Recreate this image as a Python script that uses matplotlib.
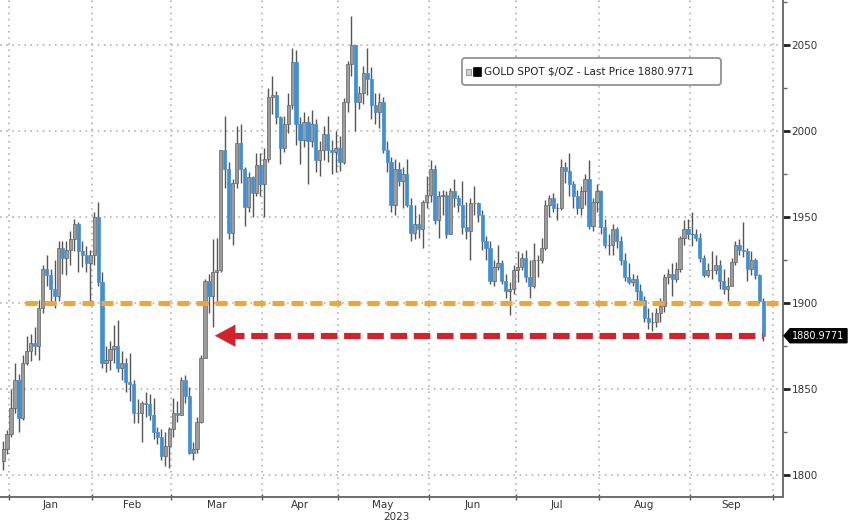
import numpy as np
import pandas as pd
import matplotlib
matplotlib.use("Agg")
import matplotlib.pyplot as plt
import matplotlib.transforms as mtransforms
from matplotlib.patches import FancyBboxPatch, Rectangle, Polygon
from matplotlib.ticker import FixedLocator, MultipleLocator, NullFormatter

plt.rcParams['font.family'] = ['DejaVu Sans']

# trading days on the chart (weekdays, minus New Year observed and Good Friday)
dates = pd.bdate_range("2022-12-29", "2023-09-27")
dates = dates.drop(pd.to_datetime(["2023-01-02", "2023-04-07"]))

first_open = 1808.0

# daily close / high / low
close_dec = [1815, 1824]
high_dec = [1820, 1826]
low_dec = [1803, 1812]

close_jan = [1839, 1855, 1833, 1865, 1872, 1877, 1875, 1897, 1920, 1916, 1908,
             1904, 1932, 1926, 1931, 1937, 1946, 1930, 1928, 1923, 1928]
high_jan = [1850, 1865, 1859, 1870, 1881, 1882, 1886, 1902, 1922, 1928, 1920,
            1925, 1936, 1936, 1936, 1942, 1949, 1947, 1936, 1933, 1931]
low_jan = [1822, 1836, 1825, 1832, 1864, 1866, 1870, 1867, 1894, 1910, 1900,
           1897, 1901, 1917, 1916, 1922, 1930, 1918, 1921, 1918, 1900]

close_feb = [1950, 1912, 1865, 1867, 1873, 1875, 1862, 1865, 1854, 1853, 1836,
             1836, 1842, 1841, 1835, 1825, 1822, 1811, 1817, 1827]
high_feb = [1953, 1959, 1918, 1875, 1878, 1887, 1890, 1872, 1868, 1871, 1855,
            1844, 1843, 1848, 1847, 1845, 1828, 1827, 1825, 1828]
low_feb = [1922, 1910, 1862, 1860, 1861, 1865, 1860, 1855, 1848, 1843, 1830,
           1830, 1819, 1834, 1832, 1821, 1818, 1809, 1805, 1804]

close_mar = [1836, 1835, 1855, 1846, 1813, 1815, 1831, 1868, 1913, 1904, 1918,
             1919, 1989, 1978, 1941, 1970, 1993, 1978, 1956, 1973, 1964, 1980, 1969]
high_mar = [1845, 1843, 1857, 1858, 1851, 1819, 1834, 1870, 1914, 1917, 1937,
            1938, 1989, 2009, 1982, 1972, 2003, 2004, 1979, 1976, 1974, 1987, 1987]
low_mar = [1822, 1831, 1835, 1842, 1812, 1809, 1813, 1830, 1872, 1894, 1886,
           1901, 1918, 1967, 1937, 1934, 1967, 1970, 1945, 1953, 1950, 1962, 1962]

close_apr = [1984, 2020, 2021, 2008, 1990, 2004, 2015, 2040, 2004, 1995, 2005,
             1994, 2004, 1983, 1989, 1998, 1989, 1988, 1990]
high_apr = [1990, 2025, 2032, 2023, 2009, 2009, 2022, 2048, 2047, 2008, 2011,
            2009, 2012, 2007, 1994, 2003, 2009, 1995, 2000]
low_apr = [1950, 1982, 2010, 2004, 1981, 1988, 1999, 2013, 1992, 1981, 1991,
           1969, 1991, 1976, 1974, 1983, 1982, 1975, 1976]

close_may = [1982, 2017, 2039, 2050, 2017, 2022, 2034, 2030, 2015, 2011, 2017,
             1989, 1982, 1957, 1978, 1971, 1975, 1957, 1941, 1946, 1943, 1959, 1963]
high_may = [1997, 2019, 2041, 2067, 2050, 2026, 2038, 2048, 2037, 2022, 2022,
            2020, 1994, 1985, 1984, 1982, 1979, 1984, 1961, 1957, 1952, 1960, 1974]
low_may = [1977, 1981, 2011, 2032, 2000, 2013, 2016, 2021, 2007, 2004, 2002,
           1987, 1976, 1953, 1951, 1968, 1955, 1956, 1936, 1937, 1938, 1932, 1955]

close_jun = [1978, 1948, 1962, 1963, 1940, 1965, 1961, 1957, 1944, 1942, 1958,
             1958, 1951, 1936, 1932, 1913, 1921, 1923, 1913, 1907, 1908, 1919]
high_jun = [1983, 1980, 1965, 1966, 1965, 1967, 1972, 1963, 1971, 1959, 1961,
            1968, 1959, 1954, 1939, 1936, 1925, 1934, 1925, 1917, 1912, 1922]
low_jun = [1959, 1946, 1938, 1951, 1938, 1940, 1956, 1953, 1940, 1937, 1925,
           1951, 1947, 1931, 1925, 1911, 1910, 1919, 1911, 1903, 1893, 1905]

close_jul = [1921, 1926, 1915, 1910, 1925, 1925, 1932, 1957, 1961, 1955, 1955,
             1979, 1977, 1969, 1962, 1955, 1965, 1972, 1945, 1959, 1965]
high_jul = [1930, 1929, 1931, 1925, 1935, 1928, 1938, 1960, 1963, 1964, 1958,
            1984, 1982, 1987, 1971, 1966, 1968, 1975, 1983, 1961, 1969]
low_jul = [1912, 1919, 1912, 1903, 1909, 1915, 1923, 1931, 1950, 1953, 1948,
           1954, 1970, 1962, 1955, 1952, 1951, 1957, 1943, 1942, 1953]

close_aug = [1944, 1934, 1934, 1943, 1936, 1925, 1915, 1912, 1914, 1907, 1902,
             1891, 1889, 1889, 1894, 1898, 1915, 1917, 1914, 1920, 1938, 1943, 1940]
high_aug = [1966, 1949, 1940, 1946, 1944, 1939, 1929, 1923, 1917, 1916, 1911,
            1904, 1897, 1895, 1897, 1903, 1917, 1920, 1923, 1924, 1939, 1948, 1949]
low_aug = [1940, 1932, 1928, 1928, 1932, 1922, 1913, 1911, 1910, 1902, 1900,
           1889, 1885, 1884, 1886, 1889, 1895, 1911, 1904, 1912, 1918, 1934, 1937]

close_sep = [1940, 1938, 1926, 1916, 1919, 1919, 1922, 1913, 1908, 1910, 1924,
             1934, 1931, 1930, 1920, 1925, 1916, 1901, 1880.9771]
high_sep = [1953, 1943, 1941, 1928, 1923, 1930, 1928, 1925, 1920, 1915, 1926,
            1936, 1937, 1947, 1932, 1930, 1926, 1917, 1903]
low_sep = [1933, 1936, 1924, 1915, 1915, 1914, 1917, 1908, 1905, 1901, 1910,
           1922, 1928, 1927, 1913, 1916, 1914, 1900, 1878]

closes = np.array(close_dec + close_jan + close_feb + close_mar + close_apr +
                  close_may + close_jun + close_jul + close_aug + close_sep, dtype=float)
highs = np.array(high_dec + high_jan + high_feb + high_mar + high_apr +
                 high_may + high_jun + high_jul + high_aug + high_sep, dtype=float)
lows = np.array(low_dec + low_jan + low_feb + low_mar + low_apr +
                low_may + low_jun + low_jul + low_aug + low_sep, dtype=float)
opens = np.concatenate([[first_open], closes[:-1]])

month_names = ["Jan", "Feb", "Mar", "Apr", "May", "Jun", "Jul", "Aug", "Sep"]
support_level = 1900
last_price = closes[-1]
legend_label = "GOLD SPOT $/OZ - Last Price 1880.9771"
price_tag = "1880.9771"

x = np.arange(len(dates))

# month boundaries (between last day of one month and first of next)
bounds = [np.argmax(dates.month == m) - 0.5 for m in range(1, 10)]
bounds.append(len(dates) + len(pd.bdate_range("2023-09-28", "2023-09-29")) - 0.5)
mids = [(a + b) / 2 for a, b in zip(bounds[:-1], bounds[1:])]

W, H = 848, 525
fig = plt.figure(figsize=(W / 100, H / 100), dpi=100)
ax = fig.add_axes([0, 1 - 497 / H, 783 / W, 497 / H])

BLUE = "#4290d2"
GREY = "#9c9c9c"
WICK = "#555555"
ORANGE = "#f0a535"
RED = "#d3222c"
GRID = "#a8a8a8"

# grid
for lvl in range(1800, 2051, 50):
    ax.axhline(lvl, color=GRID, lw=1.1, ls=(0, (1, 3)), zorder=0)
for b in bounds:
    ax.axvline(b, color=GRID, lw=1.1, ls=(0, (1, 3)), zorder=0)

# candles
up = closes >= opens
ax.vlines(x, lows, highs, color=WICK, lw=1.0, zorder=2)
body_lo = np.minimum(opens, closes)
body_h = np.abs(closes - opens)
ax.bar(x[up], body_h[up], bottom=body_lo[up], width=0.8, color=GREY,
       edgecolor="#626262", lw=0.5, zorder=3)
ax.bar(x[~up], body_h[~up], bottom=body_lo[~up], width=0.8, color=BLUE,
       edgecolor=BLUE, lw=0.5, zorder=3)

# 1900 support line
ax.plot([5.5, 197], [support_level, support_level], color=ORANGE, lw=3.6,
        ls=(0, (2.4, 1.4)), zorder=4, solid_capstyle="butt")

# dashed red arrow back to the March level
arrow_tip = 52.8
ax.plot([arrow_tip + 4, x[-1]], [last_price, last_price], color=RED, lw=4.4,
        ls=(0, (2.7, 1.1)), zorder=4)
ax.annotate("", xy=(arrow_tip, last_price), xytext=(arrow_tip + 5, last_price),
            arrowprops=dict(arrowstyle="-|>,head_length=0.7,head_width=0.38",
                            color=RED, lw=0.5, mutation_scale=20), zorder=5)

ax.set_xlim(-0.78, 197.0)
ax.set_ylim(1787.2, 2076.2)

for s in ["left", "top"]:
    ax.spines[s].set_visible(False)
for s in ["right", "bottom"]:
    ax.spines[s].set_color("#6e6e6e")
    ax.spines[s].set_linewidth(1.4)

ax.yaxis.tick_right()
ax.yaxis.set_major_locator(MultipleLocator(50))
ax.yaxis.set_minor_locator(MultipleLocator(25))
ax.tick_params(axis="y", which="major", length=5, width=2, color="#222222",
               labelsize=7.5, labelcolor="#333333", pad=1)
ax.tick_params(axis="y", which="minor", length=3, width=1, color="#666666")

ax.xaxis.set_major_locator(FixedLocator(bounds))
ax.xaxis.set_major_formatter(NullFormatter())
ax.xaxis.set_minor_locator(FixedLocator(mids))
ax.set_xticklabels(month_names, minor=True)
ax.tick_params(axis="x", which="major", length=4, width=1, direction="inout",
               color="#555555")
ax.tick_params(axis="x", which="minor", length=0, labelsize=7.5,
               labelcolor="#333333", pad=2)

# pixel transform (origin at top-left of the image)
px = mtransforms.Affine2D().scale(1 / W, -1 / H).translate(0, 1) + fig.transFigure

year_x = ax.transData.transform((mids[4] + 3.4, 0))[0]
fig.text(year_x / W, 1 - 517 / H, "2023", ha="center", va="center",
         fontsize=7.5, color="#333333")

# legend box
fig.add_artist(FancyBboxPatch((462, 58), 259, 27, boxstyle="round,pad=0,rounding_size=3",
                              fc="white", ec="#9a9a9a", lw=1.4, transform=px, zorder=6))
fig.add_artist(Rectangle((466, 69), 5, 6, fc="#d0d0d0", ec="#8a8a8a", lw=0.6,
                         transform=px, zorder=7))
fig.add_artist(Rectangle((473, 67), 8, 9, fc="black", ec="black", lw=0.5,
                         transform=px, zorder=7))
fig.text(484 / W, 1 - 71.5 / H, legend_label, ha="left", va="center",
         fontsize=7.5, color="#222222", zorder=8)

# last price tag on the right axis
fig.canvas.draw()
yc = H - ax.transData.transform((0, last_price))[1]
fig.add_artist(Polygon([(784, yc), (790, yc - 7), (847, yc - 7), (847, yc + 7),
                        (790, yc + 7)], closed=True, fc="black", ec="black",
                       transform=px, zorder=7))
fig.text(818 / W, 1 - yc / H, price_tag, ha="center", va="center", fontsize=7,
         color="white", zorder=8)

fig.savefig("out.png", dpi=100)
